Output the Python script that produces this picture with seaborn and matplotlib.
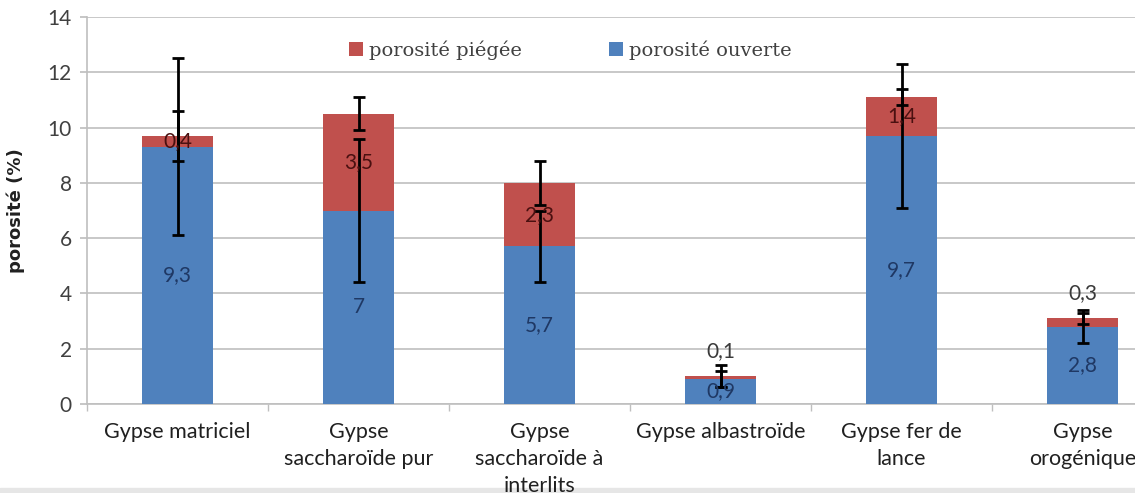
import matplotlib
matplotlib.use("Agg")
import matplotlib.pyplot as plt
import seaborn as sns
import pandas as pd
import numpy as np

# Porosity per gypsum facies (%)
categories = ["Gypse matriciel", "Gypse\nsaccharoïde pur", "Gypse\nsaccharoïde à\ninterlits",
              "Gypse albastroïde", "Gypse fer de\nlance", "Gypse\norogénique"]
open_por = [9.3, 7.0, 5.7, 0.9, 9.7, 2.8]
trapped_por = [0.4, 3.5, 2.3, 0.1, 1.4, 0.3]
open_err = [3.2, 2.6, 1.3, 0.3, 2.6, 0.6]
total_err = [0.9, 0.6, 0.8, 0.4, 0.3, 0.2]
open_labels = ["9,3", "7", "5,7", "0,9", "9,7", "2,8"]
trapped_labels = ["0,4", "3,5", "2,3", "0,1", "1,4", "0,3"]

BLUE = "#4F81BD"
RED = "#C0504D"

df = pd.DataFrame({
    "cat": categories,
    "open": open_por,
    "trapped": trapped_por,
})
df["total"] = df["open"] + df["trapped"]

sns.set_theme(style="white")
plt.rcParams["font.family"] = ["Lato", "DejaVu Sans"]

fig = plt.figure(figsize=(11.35, 4.93), dpi=100)
ax = fig.add_axes([87 / 1135, 89 / 493, 1086 / 1135, 387 / 493])

sns.barplot(data=df, x="cat", y="total", color=RED, width=0.395, saturation=1,
            ax=ax, label="porosité piégée", linewidth=0, zorder=2)
sns.barplot(data=df, x="cat", y="open", color=BLUE, width=0.395, saturation=1,
            ax=ax, label="porosité ouverte", linewidth=0, zorder=3)

xs = np.arange(len(categories))
ax.errorbar(xs, df["open"], yerr=open_err, fmt="none", ecolor="black",
            elinewidth=2, capsize=4, capthick=2, zorder=5)
ax.errorbar(xs, df["total"], yerr=total_err, fmt="none", ecolor="black",
            elinewidth=2, capsize=4, capthick=2, zorder=5)

# data labels
for i in range(len(categories)):
    o = df["open"][i]
    t = df["trapped"][i]
    ax.text(i, o / 2, open_labels[i], ha="center", va="center", fontsize=15,
            color="#1F3864", zorder=6)
    if t < 0.35:
        ax.text(i, o + t + 0.9, trapped_labels[i], ha="center", va="center", fontsize=15,
                color="#3a3a3a", zorder=6)
    else:
        ax.text(i, o + t / 2, trapped_labels[i], ha="center", va="center", fontsize=15,
                color="#4a1010", zorder=6)

ax.set_ylim(0, 14)
ax.set_xlim(-0.5, len(categories) - 0.5)
ax.set_yticks(range(0, 15, 2))
ax.yaxis.grid(True, color="#BFBFBF", linewidth=1.2, zorder=0)
ax.set_axisbelow(True)

for s in ["top", "right"]:
    ax.spines[s].set_visible(False)
ax.spines["left"].set_color("#BFBFBF")
ax.spines["bottom"].set_color("#BFBFBF")
ax.spines["left"].set_linewidth(1.2)
ax.spines["bottom"].set_linewidth(1.2)

ax.tick_params(axis="y", which="major", left=True, length=5, color="#BFBFBF",
               labelsize=15, labelcolor="#404040", pad=6)
ax.set_xticks(np.arange(-0.5, len(categories), 1.0), minor=True)
ax.tick_params(axis="x", which="major", length=0, labelsize=15.5, labelcolor="#202020", pad=13)
ax.tick_params(axis="x", which="minor", bottom=True, length=5, color="#BFBFBF")
for lbl in ax.get_xticklabels():
    lbl.set_va("top")
    lbl.set_linespacing(1.45)

ax.set_xlabel("")
ax.set_ylabel("porosité (%)", fontsize=13, fontweight="bold", color="#202020",
              family=["DejaVu Sans"], labelpad=16)

leg = ax.legend(loc="center", bbox_to_anchor=(0.445, 0.915), ncol=2, frameon=False,
                fontsize=14, handlelength=0.7, handleheight=0.7, handletextpad=0.3,
                columnspacing=4.5)
for txt in leg.get_texts():
    txt.set_color("#404040")
    txt.set_family(["DejaVu Serif"])

# thin grey band along the lower edge
fig.patches.append(plt.Rectangle((0, 0), 1, 5 / 493, transform=fig.transFigure,
                                 color="#E6E6E6", zorder=-1))

fig.savefig("out.png", dpi=100)
